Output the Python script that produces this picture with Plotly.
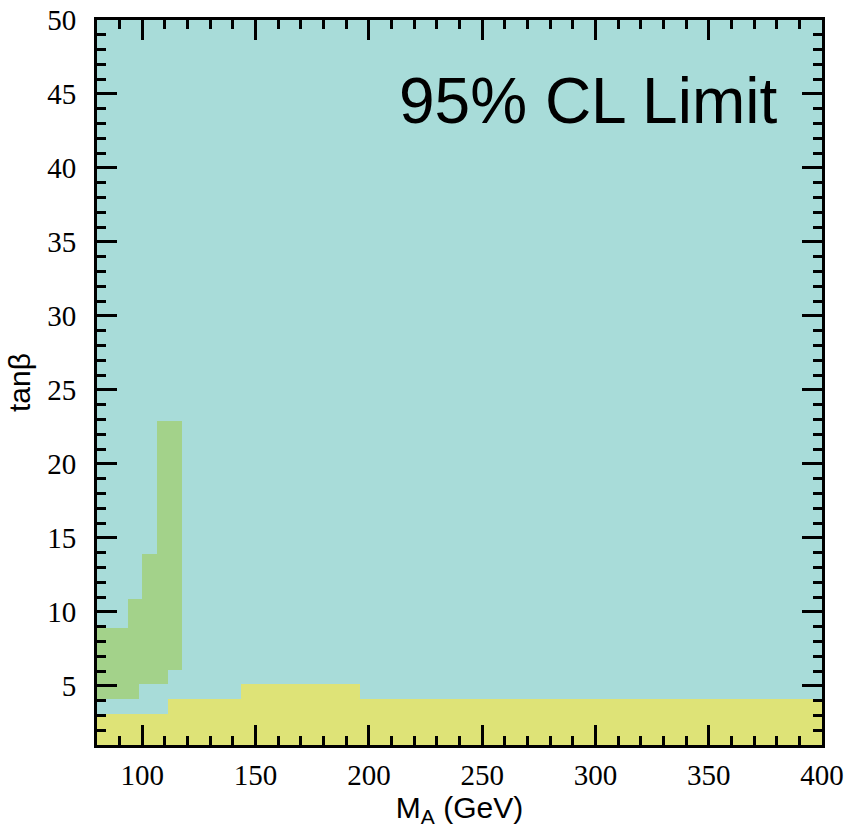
import plotly.graph_objects as go

# Excluded regions in the (M_A, tan beta) plane, as piecewise-constant bins
green_left = [80, 93.5, 98.4, 100, 106.3, 111.2]
green_right = [93.5, 98.4, 100, 106.3, 111.2, 117.6]
green_low = [4.1, 4.1, 5.1, 5.1, 5.1, 6.1]
green_high = [8.9, 10.9, 10.9, 13.9, 22.9, 22.9]

yellow_left = [80, 111.2, 143.4, 196]
yellow_right = [111.2, 143.4, 196, 400]
yellow_low = [1, 1, 1, 1]
yellow_high = [3.1, 4.1, 5.1, 4.1]

x_range = [80, 400]
y_range = [1, 50]

CYAN = "rgb(168,220,217)"
GREEN = "rgb(163,210,138)"
YELLOW = "rgb(222,227,119)"


def bins(left, right, low, high, color):
    return go.Bar(
        x=[(a + b) / 2 for a, b in zip(left, right)],
        width=[b - a for a, b in zip(left, right)],
        base=low,
        y=[h - l for l, h in zip(low, high)],
        marker=dict(color=color, line=dict(width=0)),
        hoverinfo="skip",
        showlegend=False,
    )


fig = go.Figure()
fig.add_trace(bins(yellow_left, yellow_right, yellow_low, yellow_high, YELLOW))
fig.add_trace(bins(green_left, green_right, green_low, green_high, GREEN))

tick_font = dict(family="Liberation Serif", size=29, color="black")
title_font = dict(family="Liberation Sans", size=30, color="black")

common = dict(
    ticks="inside",
    ticklen=20,
    tickwidth=3,
    tickcolor="black",
    showline=True,
    linewidth=3,
    linecolor="black",
    mirror="ticks",
    showgrid=False,
    zeroline=False,
    automargin=False,
    tickfont=tick_font,
)

fig.update_layout(
    width=850,
    height=833,
    margin=dict(l=97, r=28, t=20, b=88),
    paper_bgcolor="white",
    plot_bgcolor=CYAN,
    barmode="overlay",
    bargap=0,
    xaxis=dict(
        range=x_range,
        tick0=0,
        dtick=50,
        minor=dict(dtick=10, tick0=0, ticks="inside", ticklen=9,
                   tickwidth=3, tickcolor="black"),
        ticklabelstandoff=2,
        title=dict(text="M<sub>A</sub> (GeV)", font=title_font, standoff=0),
        **common,
    ),
    yaxis=dict(
        range=y_range,
        tick0=0,
        dtick=5,
        minor=dict(dtick=1, tick0=0, ticks="inside", ticklen=9,
                   tickwidth=3, tickcolor="black"),
        ticklabelstandoff=12,
        title=dict(text="tanβ", font=title_font, standoff=8),
        **common,
    ),
    annotations=[
        dict(
            text="95% CL Limit",
            x=0.94,
            y=0.888,
            xref="paper",
            yref="paper",
            xanchor="right",
            yanchor="middle",
            showarrow=False,
            font=dict(family="Liberation Sans", size=64, color="black"),
        )
    ],
)

fig.write_html("out.html")
